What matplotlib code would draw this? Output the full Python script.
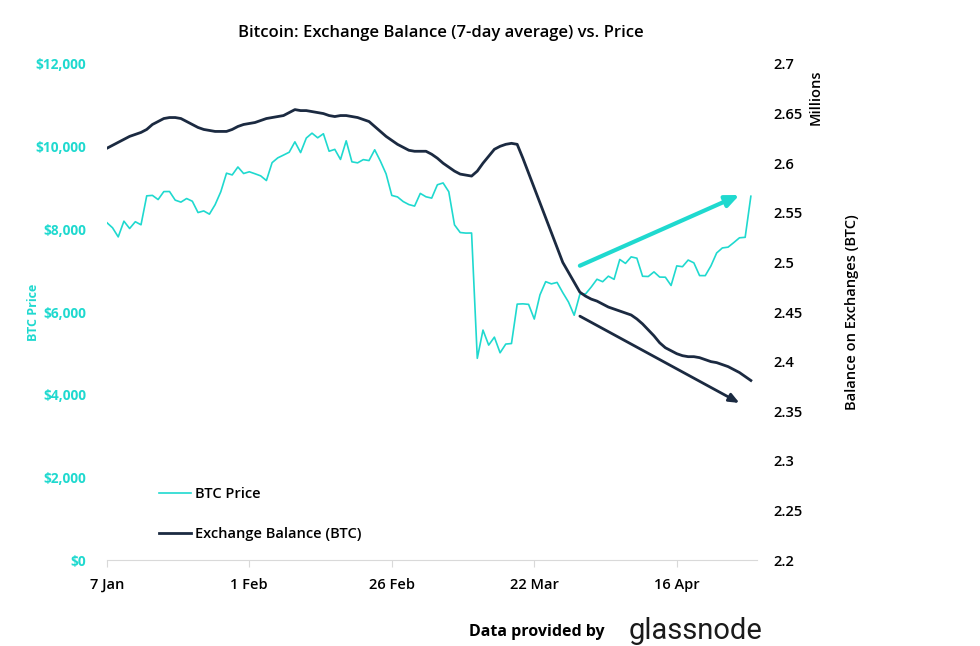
import matplotlib
matplotlib.use("Agg")
import matplotlib.pyplot as plt
import numpy as np
import pandas as pd

# Daily data, 7 Jan 2020 to 29 Apr 2020
dates = pd.date_range("2020-01-07", "2020-04-29", freq="D")

btc_price = [
    # Jan 7 - Jan 31
    8163, 8038, 7817, 8197, 8020, 8184, 8110, 8810, 8821, 8720,
    8913, 8915, 8706, 8658, 8745, 8680, 8406, 8445, 8367, 8596,
    8910, 9358, 9316, 9508, 9350,
    # Feb 1 - Feb 29
    9392, 9344, 9293, 9180, 9613, 9729, 9796, 9865, 10116, 9856,
    10208, 10326, 10214, 10312, 9889, 9934, 9690, 10141, 9633, 9608,
    9686, 9663, 9924, 9650, 9341, 8820, 8784, 8672, 8599,
    # Mar 1 - Mar 31
    8562, 8869, 8787, 8755, 9078, 9122, 8909, 8108, 7923, 7909,
    7911, 4880, 5563, 5200, 5392, 5014, 5225, 5238, 6191, 6198,
    6185, 5830, 6416, 6734, 6681, 6716, 6469, 6242, 5922, 6429,
    6438,
    # Apr 1 - Apr 29
    6606, 6793, 6733, 6867, 6791, 7271, 7176, 7334, 7302, 6865,
    6859, 6971, 6845, 6842, 6642, 7116, 7096, 7257, 7189, 6881,
    6880, 7117, 7429, 7550, 7569, 7679, 7795, 7807, 8801,
]

exchange_balance_m = [
    2.615, 2.618, 2.621, 2.624, 2.627, 2.629, 2.631, 2.634, 2.639, 2.642,
    2.645, 2.646, 2.646, 2.645, 2.642, 2.639, 2.636, 2.634, 2.633, 2.632,
    2.632, 2.632, 2.634, 2.637, 2.639, 2.640, 2.641, 2.643, 2.645, 2.646,
    2.647, 2.648, 2.651, 2.654, 2.653, 2.653, 2.652, 2.651, 2.650, 2.648,
    2.647, 2.648, 2.648, 2.647, 2.646, 2.644, 2.642, 2.637, 2.632, 2.627,
    2.623, 2.619, 2.616, 2.613, 2.612, 2.612, 2.612, 2.609, 2.605, 2.600,
    2.596, 2.592, 2.589, 2.588, 2.587, 2.592, 2.600, 2.607, 2.614, 2.617,
    2.619, 2.620, 2.619, 2.605, 2.590, 2.575, 2.560, 2.545, 2.530, 2.515,
    2.500, 2.490, 2.480, 2.470, 2.466, 2.463, 2.461, 2.458, 2.455, 2.453,
    2.451, 2.449, 2.447, 2.443, 2.438, 2.432, 2.426, 2.419, 2.414, 2.411,
    2.408, 2.406, 2.405, 2.405, 2.404, 2.402, 2.400, 2.399, 2.397, 2.395,
    2.392, 2.389, 2.385, 2.381,
]

tick_dates = pd.to_datetime(["2020-01-07", "2020-02-01", "2020-02-26",
                             "2020-03-22", "2020-04-16"])
tick_labels = ["7 Jan", "1 Feb", "26 Feb", "22 Mar", "16 Apr"]

# trend arrows (price axis units)
up_arrow = (pd.Timestamp("2020-03-30"), 7120, pd.Timestamp("2020-04-27"), 8830)
down_arrow = (pd.Timestamp("2020-03-30"), 5900, pd.Timestamp("2020-04-27"), 3800)

TEAL = "#1fd9cf"
NAVY = "#1b2a41"

plt.rcParams["font.family"] = ["Open Sans", "DejaVu Sans"]

fig = plt.figure(figsize=(9.8, 6.46), dpi=100)
ax = fig.add_axes([0.109, 0.133, 0.663, 0.768])
ax2 = ax.twinx()

l1, = ax.plot(dates, btc_price, color=TEAL, lw=1.2, label="BTC Price")
l2, = ax2.plot(dates, exchange_balance_m, color=NAVY, lw=2.0,
               label="Exchange Balance (BTC)")

ax.annotate("", xy=(up_arrow[2], up_arrow[3]), xytext=(up_arrow[0], up_arrow[1]),
            arrowprops=dict(arrowstyle="-|>,head_length=0.8,head_width=0.35",
                            color=TEAL, lw=3, shrinkA=0, shrinkB=0))
ax.annotate("", xy=(down_arrow[2], down_arrow[3]), xytext=(down_arrow[0], down_arrow[1]),
            arrowprops=dict(arrowstyle="-|>,head_length=0.6,head_width=0.25",
                            color=NAVY, lw=2, shrinkA=0, shrinkB=0))

ax.set_xlim(pd.Timestamp("2020-01-07"), pd.Timestamp("2020-04-30"))
ax.set_ylim(0, 12000)
ax2.set_ylim(2.2, 2.7)

ax.set_yticks(np.arange(0, 12001, 2000))
ax.set_yticklabels(["${:,.0f}".format(v) for v in np.arange(0, 12001, 2000)])
ax2.set_yticks(np.arange(2.2, 2.7001, 0.05))
ax2.set_yticklabels(["{:g}".format(round(v, 2)) for v in np.arange(2.2, 2.7001, 0.05)])

ax.set_xticks(tick_dates)
ax.set_xticklabels(tick_labels)

for a in (ax, ax2):
    for s in a.spines.values():
        s.set_visible(False)
ax.spines["bottom"].set_visible(True)
ax.spines["bottom"].set_color("#d9d9d9")

ax.tick_params(axis="x", length=5, color="#d9d9d9", labelsize=10.5,
               labelcolor="black", pad=8)
ax.tick_params(axis="y", length=0, labelsize=9.8, labelcolor=TEAL, pad=15)
ax2.tick_params(axis="y", length=0, labelsize=10.5, labelcolor="black", pad=12)
for lab in ax.get_xticklabels() + ax2.get_yticklabels():
    lab.set_fontweight("semibold")
for lab in ax.get_yticklabels():
    lab.set_fontweight("bold")

fig.text(0.034, 0.517, "BTC Price", rotation=90, color=TEAL, fontsize=9,
         fontweight="bold", ha="center", va="center")
fig.text(0.832, 0.85, "Millions", rotation=90, fontsize=10.5,
         fontweight="semibold", ha="center", va="center")
fig.text(0.869, 0.517, "Balance on Exchanges (BTC)", rotation=90, fontsize=10.5,
         fontweight="semibold", ha="center", va="center")

fig.text(0.45, 0.949, "Bitcoin: Exchange Balance (7-day average) vs. Price",
         fontsize=12, fontweight="semibold", ha="center", va="center")

leg = ax.legend(handles=[l1, l2], loc="lower left", bbox_to_anchor=(0.06, 0.012),
                frameon=False, fontsize=10.5, handlelength=2.2, labelspacing=1.8,
                handletextpad=0.3)
for t in leg.get_texts():
    t.set_fontweight("semibold")

fig.text(0.617, 0.01, "Data provided by", fontsize=11.5, fontweight="bold",
         ha="right", va="bottom")
fig.text(0.641, 0.002, "glassnode", fontsize=21, fontweight="normal",
         color="#1a1a1a", family=["Roboto", "DejaVu Sans"], ha="left", va="bottom")

fig.savefig("out.png", dpi=100)
